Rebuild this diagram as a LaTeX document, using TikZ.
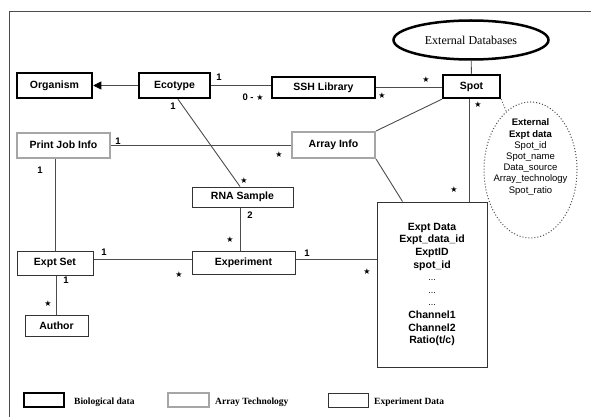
\documentclass[tikz,border=0pt]{standalone}
\usepackage{fontspec}
\setmainfont{Liberation Sans}
\newfontfamily\timesfont{Liberation Serif}
\newfontfamily\symfont{DejaVu Sans}
\usetikzlibrary{shapes.geometric,arrows.meta,calc}

\newcommand{\mstar}{{\symfont\fontsize{8}{8}\selectfont ★}}

\tikzset{
  bio/.style={draw=black,line width=2.5pt,inner sep=0pt,font=\fontsize{10.5}{12}\selectfont\bfseries},
  tech/.style={draw=black!35,line width=2pt,inner sep=0pt,font=\fontsize{10.5}{12}\selectfont\bfseries},
  expt/.style={draw=black!80,line width=1pt,inner sep=0pt,font=\fontsize{10.5}{12}\selectfont\bfseries},
  link/.style={draw=black!70,line width=0.9pt},
  mult/.style={inner sep=0pt,font=\fontsize{9.5}{11}\selectfont\bfseries},
  legtext/.style={anchor=west,inner sep=0pt,font=\timesfont\fontsize{9.5}{11}\selectfont\bfseries}
}

\begin{document}
\begin{tikzpicture}[x=1pt,y=-1pt]
    \useasboundingbox (0,0) rectangle (591,417);
    \draw[black!70,line width=1pt] (591,12) -- (9,12) -- (9,417);

    \node[bio,minimum width=75pt,minimum height=25pt] (organism) at (54.5,85.5) {Organism};
    \node[bio,minimum width=71pt,minimum height=25pt] (ecotype) at (174.5,85.5) {Ecotype};
    \node[bio,minimum width=103pt,minimum height=21pt] (ssh) at (323.5,87.5) {SSH Library};
    \node[bio,minimum width=57pt,minimum height=23pt] (spot) at (471.5,86.5) {Spot};
    \node[ellipse,draw,line width=2.5pt,inner sep=0pt,minimum width=155pt,minimum height=39pt,
      font=\timesfont\fontsize{12}{14}\selectfont] (extdb) at (471,40) {External Databases};

    \node[tech,minimum width=93pt,minimum height=25pt] (printjob) at (63.5,145) {Print Job Info};
    \node[tech,minimum width=83pt,minimum height=26pt] (arrayinfo) at (333.5,145) {Array Info};

    \node[expt,minimum width=101pt,minimum height=20pt] (rna) at (242.5,197) {RNA Sample};
    \node[expt,minimum width=76pt,minimum height=24pt] (exptset) at (55,263) {Expt Set};
    \node[expt,minimum width=103pt,minimum height=23pt] (experiment) at (243.5,262.5) {Experiment};
    \node[expt,minimum width=63pt,minimum height=21pt] (author) at (56.5,325.5) {Author};
    \node[expt,minimum width=110pt,minimum height=165pt,align=center,
      font=\fontsize{10.5}{12.6}\selectfont\bfseries] (exptdata) at (432,284.5)
      {Expt Data\\Expt\_data\_id\\ExptID\\spot\_id\\{\mdseries\small ...}\\{\mdseries\small ...}\\{\mdseries\small ...}\\Channel1\\Channel2\\Ratio(t/c)};

    \node[ellipse,draw=black!70,dotted,line width=1pt,minimum width=93pt,minimum height=136pt] (extexpt) at (530.5,170) {};
    \node[align=center,inner sep=0pt,font=\fontsize{9.5}{11.2}\selectfont] (extfields) at (530.5,157)
      {\textbf{External}\\\textbf{Expt data}\\Spot\_id\\Spot\_name\\Data\_source\\Array\_technology\\Spot\_ratio};

    \draw[link,-{Triangle[length=8pt,width=8pt,black]}] (ecotype) -- (organism);
    \draw[link] (ecotype.east) -- (ecotype.east -| ssh.west);
    \draw[link] (ssh.east) -- (ssh.east -| spot.west);
    \draw[link] (extdb) -- (spot);
    \draw[link] ([xshift=-2.5pt]spot.south) -- ([xshift=-2.5pt]spot.south |- exptdata.north);
    \draw[link] (spot.south west) -- (arrayinfo.north east);
    \draw[link] (arrayinfo.south east) -- ($(exptdata.north west)+(26,0)$);
    \draw[link,dotted] (spot.south east) -- (extexpt);
    \draw[link] (printjob) -- (arrayinfo);
    \draw[link] ([xshift=3.5pt]ecotype.south) -- ([xshift=-2.5pt]rna.north);
    \draw[link] ([xshift=-2.5pt]rna.south) -- ([xshift=-2.5pt]rna.south |- experiment.north);
    \draw[link] (exptset.north |- printjob.south) -- (exptset.north);
    \draw[link] ([yshift=4pt]exptset.east) -- ([yshift=4pt]exptset.east -| experiment.west);
    \draw[link] ([yshift=3pt]experiment.east) -- ([yshift=3pt]experiment.east -| exptdata.west);
    \draw[link] (author.north |- exptset.south) -- (author.north);

    \node[mult] (m1) at (219,77) {1};
    \node[mult] (m2) at (253,97) {0 - \mstar};
    \node[mult] (m3) at (382,96) {\mstar};
    \node[mult] (m4) at (426,80) {\mstar};
    \node[mult] (m5) at (478,105) {\mstar};
    \node[mult] (m6) at (454,190) {\mstar};
    \node[mult] (m7) at (173,106) {1};
    \node[mult] (m8) at (118,141) {1};
    \node[mult] (m9) at (279,155) {\mstar};
    \node[mult] (m10) at (40,170) {1};
    \node[mult] (m11) at (244,181) {\mstar};
    \node[mult] (m12) at (250,215) {2};
    \node[mult] (m13) at (230,240) {\mstar};
    \node[mult] (m14) at (104,252) {1};
    \node[mult] (m15) at (179,275) {\mstar};
    \node[mult] (m16) at (307,253) {1};
    \node[mult] (m17) at (367,272) {\mstar};
    \node[mult] (m18) at (66,280) {1};
    \node[mult] (m19) at (48,304) {\mstar};

    \node[bio,minimum width=40pt,minimum height=14pt] (legbio) at (44,400) {};
    \node[legtext] (legbiotext) at (74,402) {Biological data};
    \node[tech,minimum width=41pt,minimum height=14pt] (legtech) at (188.5,400) {};
    \node[legtext] (legtechtext) at (215,402) {Array Technology};
    \node[expt,minimum width=40pt,minimum height=14pt] (legexpt) at (348,400) {};
    \node[legtext] (legexpttext) at (374,402) {Experiment Data};
\end{tikzpicture}
\end{document}
